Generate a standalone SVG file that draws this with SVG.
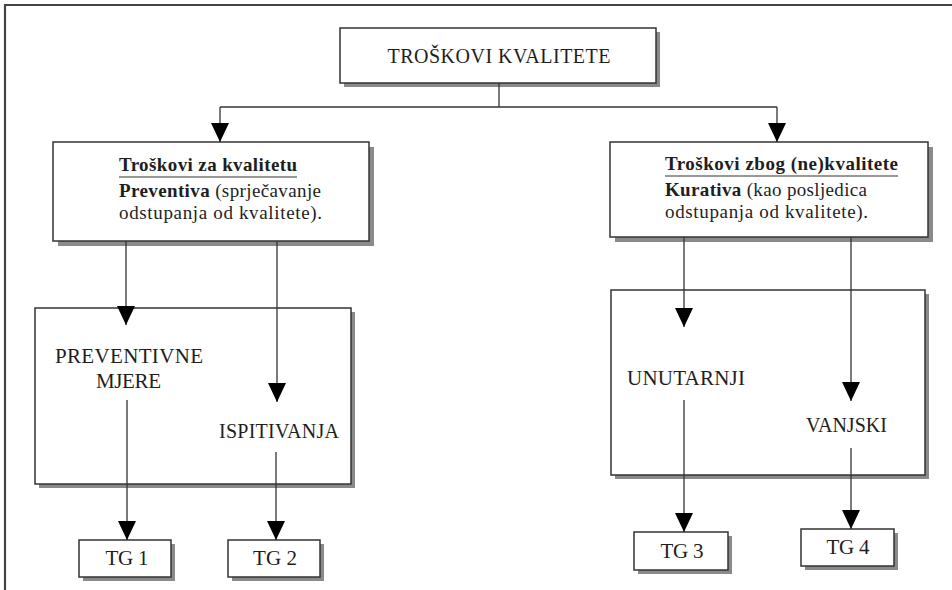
<svg xmlns="http://www.w3.org/2000/svg" width="952" height="590" viewBox="0 0 952 590">
<defs>
<style>
.box{fill:#fff;stroke:#333;stroke-width:1.5}
.sh{fill:#8a8a8a}
.ln{fill:none;stroke:#333;stroke-width:1.3}
text{fill:#1e1e1e}
.c{text-anchor:middle}
.b{font-weight:bold}
</style>
<marker id="ah" viewBox="0 0 19 18" refX="19" refY="9" markerWidth="19" markerHeight="18" markerUnits="userSpaceOnUse" orient="auto">
<path d="M0,0 L19,9 L0,18 Z" fill="#000"/>
</marker>
</defs>
<rect width="952" height="590" fill="#fff"/>
<path d="M5,590 V5 H952" fill="none" stroke="#444" stroke-width="2.2"/>

<g id="nodes" font-family="'Liberation Serif', 'DejaVu Serif', serif">
<g id="troskovi-kvalitete">
<rect class="sh" x="344" y="32" width="316" height="55"/>
<rect class="box" x="340" y="28" width="316" height="55"/>
<text class="c" x="499" y="63" font-size="20" textLength="223">TROŠKOVI KVALITETE</text>
</g>

<g id="troskovi-za-kvalitetu">
<rect class="sh" x="58" y="147" width="316" height="99"/>
<rect class="box" x="53" y="142" width="316" height="99"/>
<text class="b" x="119" y="171" font-size="19" textLength="178">Troškovi za kvalitetu</text>
<line x1="119" y1="177" x2="297" y2="177" stroke="#333" stroke-width="1.2"/>
<text x="119" y="197" font-size="19" textLength="202"><tspan class="b">Preventiva</tspan> (sprječavanje</text>
<text x="119" y="219" font-size="19" textLength="203">odstupanja od kvalitete).</text>
</g>

<g id="troskovi-zbog-nekvalitete">
<rect class="sh" x="615" y="147" width="318" height="95"/>
<rect class="box" x="610" y="142" width="318" height="95"/>
<text class="b" x="665" y="170" font-size="19" textLength="233">Troškovi zbog (ne)kvalitete</text>
<line x1="665" y1="176" x2="898" y2="176" stroke="#333" stroke-width="1.2"/>
<text x="665" y="196" font-size="19" textLength="202"><tspan class="b">Kurativa</tspan> (kao posljedica</text>
<text x="665" y="218" font-size="19" textLength="203">odstupanja od kvalitete).</text>
</g>

<g id="preventiva-group">
<rect class="sh" x="39" y="312" width="316" height="176"/>
<rect class="box" x="35" y="308" width="316" height="176"/>
<text class="c" x="129" y="363" font-size="21" textLength="148">PREVENTIVNE</text>
<text class="c" x="128.5" y="388" font-size="21" textLength="65">MJERE</text>
<text class="c" x="279" y="438" font-size="20" textLength="120">ISPITIVANJA</text>
</g>

<g id="kurativa-group">
<rect class="sh" x="615" y="294" width="314" height="185"/>
<rect class="box" x="611" y="290" width="314" height="185"/>
<text class="c" x="686" y="385" font-size="21" textLength="118">UNUTARNJI</text>
<text class="c" x="846.5" y="432" font-size="20" textLength="81">VANJSKI</text>
</g>

<g id="tg1">
<rect class="sh" x="83" y="544" width="92" height="37"/>
<rect class="box" x="79" y="540" width="92" height="37"/>
<text class="c" x="127" y="565" font-size="21" textLength="43">TG 1</text>
</g>
<g id="tg2">
<rect class="sh" x="232" y="544" width="92" height="37"/>
<rect class="box" x="228" y="540" width="92" height="37"/>
<text class="c" x="275" y="565" font-size="21" textLength="44">TG 2</text>
</g>
<g id="tg3">
<rect class="sh" x="638" y="536" width="94" height="38"/>
<rect class="box" x="634" y="532" width="94" height="38"/>
<text class="c" x="682" y="558" font-size="21" textLength="43">TG 3</text>
</g>
<g id="tg4">
<rect class="sh" x="805" y="533" width="93" height="37"/>
<rect class="box" x="801" y="529" width="93" height="37"/>
<text class="c" x="848" y="554" font-size="21" textLength="43">TG 4</text>
</g>
</g>

<g id="connectors">
<path class="ln" d="M499,83 V107"/>
<path class="ln" d="M220,107 H777"/>
<path class="ln" d="M220,107 V142" marker-end="url(#ah)"/>
<path class="ln" d="M777,107 V142" marker-end="url(#ah)"/>
<path class="ln" d="M126,241 V325" marker-end="url(#ah)"/>
<path class="ln" d="M277,241 V402" marker-end="url(#ah)"/>
<path class="ln" d="M127,400 V540" marker-end="url(#ah)"/>
<path class="ln" d="M276,452 V540" marker-end="url(#ah)"/>
<path class="ln" d="M684,237 V327" marker-end="url(#ah)"/>
<path class="ln" d="M851,237 V401" marker-end="url(#ah)"/>
<path class="ln" d="M684,400 V532" marker-end="url(#ah)"/>
<path class="ln" d="M851,448 V529" marker-end="url(#ah)"/>
</g>
</svg>
